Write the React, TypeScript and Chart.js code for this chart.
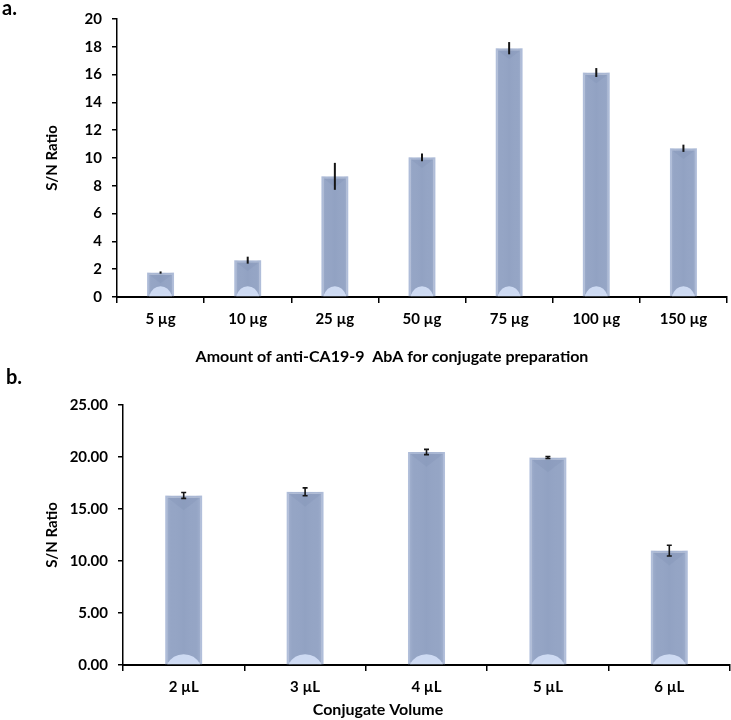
import React, { useEffect, useRef } from "react";
import { Chart, registerables } from "chart.js";

Chart.register(...registerables);

// ---- Data (panel a) ----
const amountLabels = ["5 µg", "10 µg", "25 µg", "50 µg", "75 µg", "100 µg", "150 µg"];
const amountValues = [1.76, 2.65, 8.68, 10.05, 17.9, 16.15, 10.7];
const amountErrors = [0.08, 0.25, 0.97, 0.28, 0.44, 0.32, 0.26];
const amountAxisMax = 20;
const amountAxisStep = 2;
const amountTitle = "Amount of anti-CA19-9  AbA for conjugate preparation";

// ---- Data (panel b) ----
const volumeLabels = ["2 µL", "3 µL", "4 µL", "5 µL", "6 µL"];
const volumeValues = [16.3, 16.65, 20.48, 19.95, 11.0];
const volumeErrors = [0.28, 0.38, 0.25, 0.1, 0.52];
const volumeAxisMax = 25;
const volumeAxisStep = 5;
const volumeTitle = "Conjugate Volume";

const yTitle = "S/N Ratio";
const FONT = "Lato, 'Open Sans', 'DejaVu Sans', sans-serif";

type PanelCfg = {
  labels: string[];
  values: number[];
  errors: number[];
  max: number;
  step: number;
  decimals: number;
  areaLeft: number;
  areaRight: number;
  areaTop: number;
  areaBottom: number;
  height: number;
  xTitle: string;
  xTitleX: number;
  xTitleY: number;
  panel: string;
  panelX: number;
  panelY: number;
  caps: boolean;
  barPct: number;
};

function makeChart(canvas: HTMLCanvasElement, p: PanelCfg) {
  const bevel = {
    id: "bevel",
    afterDatasetsDraw(chart: any) {
      const ctx = chart.ctx;
      const meta = chart.getDatasetMeta(0);
      ctx.save();
      meta.data.forEach((el: any) => {
        const { x, y, base, width } = el.getProps(["x", "y", "base", "width"], true);
        const l = x - width / 2;
        const r = x + width / 2;
        const h = base - y;
        const g = ctx.createLinearGradient(l, 0, r, 0);
        g.addColorStop(0, "rgba(190,202,228,0.55)");
        g.addColorStop(0.18, "rgba(150,166,198,0)");
        g.addColorStop(0.5, "rgba(120,138,175,0.12)");
        g.addColorStop(0.82, "rgba(150,166,198,0)");
        g.addColorStop(1, "rgba(190,202,228,0.55)");
        ctx.fillStyle = g;
        ctx.fillRect(l, y, width, h);
        const d = Math.min(width * 0.4, h / 2);
        ctx.fillStyle = "rgba(110,128,168,0.16)";
        ctx.beginPath();
        ctx.moveTo(l + 2, y + 2);
        ctx.lineTo(x, y + d);
        ctx.lineTo(r - 2, y + 2);
        ctx.closePath();
        ctx.fill();
        const bh = Math.min(10, h / 2);
        ctx.fillStyle = "rgba(212,224,247,0.9)";
        ctx.beginPath();
        ctx.moveTo(l + 2, base);
        ctx.quadraticCurveTo(l + width * 0.2, base - bh, x, base - bh);
        ctx.quadraticCurveTo(r - width * 0.2, base - bh, r - 2, base);
        ctx.closePath();
        ctx.fill();
      });
      ctx.restore();
    },
  };

  const errorBars = {
    id: "errorBars",
    afterDatasetsDraw(chart: any) {
      const ctx = chart.ctx;
      const meta = chart.getDatasetMeta(0);
      const ys = chart.scales.y;
      ctx.save();
      ctx.strokeStyle = "#151515";
      ctx.lineWidth = p.caps ? 1.6 : 2;
      meta.data.forEach((el: any, i: number) => {
        const v = p.values[i];
        const e = p.errors[i];
        const x = el.x;
        const yt = ys.getPixelForValue(v + e);
        const yb = ys.getPixelForValue(v - e);
        ctx.beginPath();
        ctx.moveTo(x, yt);
        ctx.lineTo(x, yb);
        if (p.caps) {
          ctx.moveTo(x - 2.5, yt);
          ctx.lineTo(x + 2.5, yt);
          ctx.moveTo(x - 2.5, yb);
          ctx.lineTo(x + 2.5, yb);
        }
        ctx.stroke();
      });
      ctx.restore();
    },
  };

  const texts = {
    id: "texts",
    afterDraw(chart: any) {
      const ctx = chart.ctx;
      ctx.save();
      ctx.fillStyle = "#000";
      ctx.font = `bold 16px ${FONT}`;
      ctx.textAlign = "center";
      ctx.textBaseline = "middle";
      ctx.fillText(p.xTitle, p.xTitleX, p.xTitleY);
      ctx.font = `bold 20px ${FONT}`;
      ctx.textAlign = "left";
      ctx.textBaseline = "alphabetic";
      ctx.fillText(p.panel, p.panelX, p.panelY);
      ctx.restore();
    },
  };

  return new Chart(canvas, {
    type: "bar",
    data: {
      labels: p.labels,
      datasets: [
        {
          data: p.values,
          backgroundColor: "#95a5c5",
          borderColor: "#aab8d4",
          borderWidth: 2,
          borderSkipped: false,
          barPercentage: p.barPct,
          categoryPercentage: 1,
        },
      ],
    },
    options: {
      responsive: false,
      animation: false,
      devicePixelRatio: 1,
      layout: {
        padding: { left: 0, right: 731 - p.areaRight, top: p.areaTop, bottom: 0 },
      },
      plugins: {
        legend: { display: false },
        tooltip: { enabled: false },
      },
      scales: {
        x: {
          grid: {
            offset: true,
            drawOnChartArea: false,
            tickLength: 6,
            color: "#000",
            lineWidth: 1.5,
          },
          border: { color: "#000", width: 2 },
          ticks: {
            color: "#000",
            font: { family: FONT, size: 15, weight: "bold" },
            padding: 7,
            maxRotation: 0,
            autoSkip: false,
          },
          afterFit: (s: any) => {
            s.height = p.height - p.areaBottom;
          },
        },
        y: {
          min: 0,
          max: p.max,
          grid: {
            drawOnChartArea: false,
            tickLength: 5,
            color: "#000",
            lineWidth: 1.5,
          },
          border: { color: "#000", width: 1.5 },
          ticks: {
            stepSize: p.step,
            color: "#000",
            font: { family: FONT, size: 15, weight: "bold" },
            padding: 10,
            callback: (v: any) => Number(v).toFixed(p.decimals),
          },
          title: {
            display: true,
            text: yTitle,
            color: "#000",
            font: { family: FONT, size: 15, weight: "bold" },
            padding: { top: 43, bottom: 0 },
          },
          afterFit: (s: any) => {
            s.width = p.areaLeft;
          },
        },
      },
    },
    plugins: [bevel, errorBars, texts],
  } as any);
}

export default function App() {
  const topRef = useRef<HTMLCanvasElement>(null);
  const botRef = useRef<HTMLCanvasElement>(null);

  useEffect(() => {
    const c1 = makeChart(topRef.current!, {
      labels: amountLabels,
      values: amountValues,
      errors: amountErrors,
      max: amountAxisMax,
      step: amountAxisStep,
      decimals: 0,
      areaLeft: 117,
      areaRight: 727,
      areaTop: 18,
      areaBottom: 297,
      height: 365,
      xTitle: amountTitle,
      xTitleX: 392,
      xTitleY: 357,
      panel: "a.",
      panelX: 2,
      panelY: 15,
      caps: false,
      barPct: 0.31,
    });
    const c2 = makeChart(botRef.current!, {
      labels: volumeLabels,
      values: volumeValues,
      errors: volumeErrors,
      max: volumeAxisMax,
      step: volumeAxisStep,
      decimals: 2,
      areaLeft: 123,
      areaRight: 730,
      areaTop: 40,
      areaBottom: 300,
      height: 355,
      xTitle: volumeTitle,
      xTitleX: 378,
      xTitleY: 345,
      panel: "b.",
      panelX: 6,
      panelY: 19,
      caps: true,
      barPct: 0.305,
    });
    return () => {
      c1.destroy();
      c2.destroy();
    };
  }, []);

  return (
    <div
      style={{
        position: "absolute",
        left: 0,
        top: 0,
        width: 731,
        height: 720,
        background: "#fff",
        overflow: "hidden",
      }}
    >
      <canvas
        ref={topRef}
        width={731}
        height={365}
        style={{ position: "absolute", left: 0, top: 0, width: 731, height: 365 }}
      />
      <canvas
        ref={botRef}
        width={731}
        height={355}
        style={{ position: "absolute", left: 0, top: 365, width: 731, height: 355 }}
      />
    </div>
  );
}
